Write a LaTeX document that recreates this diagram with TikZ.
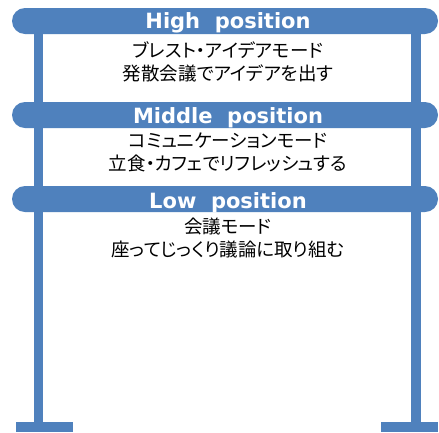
\documentclass[tikz,border=0pt]{standalone}
\usepackage{fontspec}
\newfontfamily\jp[RawFeature=+palt]{Noto Sans CJK JP}
\newfontfamily\hd{DejaVu Sans}
\definecolor{steel}{HTML}{4F81BD}
\begin{document}
\begin{tikzpicture}[x=1pt,y=-1pt,
  part/.style={fill=steel,draw=none},
  bar/.style={fill=steel,draw=none,rounded corners=13pt},
  head/.style={text=white,font=\hd\bfseries\fontsize{21}{22}\selectfont,inner sep=0pt,anchor=base},
  body/.style={text=black,font=\jp\fontsize{18.5}{22.5}\selectfont,align=center,inner sep=0pt}]
\useasboundingbox (0,0) rectangle (439,432);
\fill[white] (0,0) rectangle (439,432);
% poles and feet
\path[part] (33.5,20) rectangle (43,432);
\path[part] (411,20) rectangle (420.5,432);
\path[part] (16,422) rectangle (73,432);
\path[part] (381,422) rectangle (438,432);
% bars
\path[bar] (12,8) rectangle (438,34);
\path[bar] (12,102) rectangle (438,128);
\path[bar] (12,186) rectangle (438,212);
% headers
\node[head] (h1) at (228,28.5) {High\ \ position};
\node[head] (h2) at (228,123) {Middle\ \ position};
\node[head] (h3) at (228,208) {Low\ \ position};
% bodies
\node[body] (b1) at (228,62) {ブレスト・アイデアモード\\発散会議でアイデアを出す};
\node[body] (b2) at (228,152.5) {コミュニケーションモード\\立食・カフェでリフレッシュする};
\node[body] (b3) at (228,238) {会議モード\\座ってじっくり議論に取り組む};
\end{tikzpicture}
\end{document}
